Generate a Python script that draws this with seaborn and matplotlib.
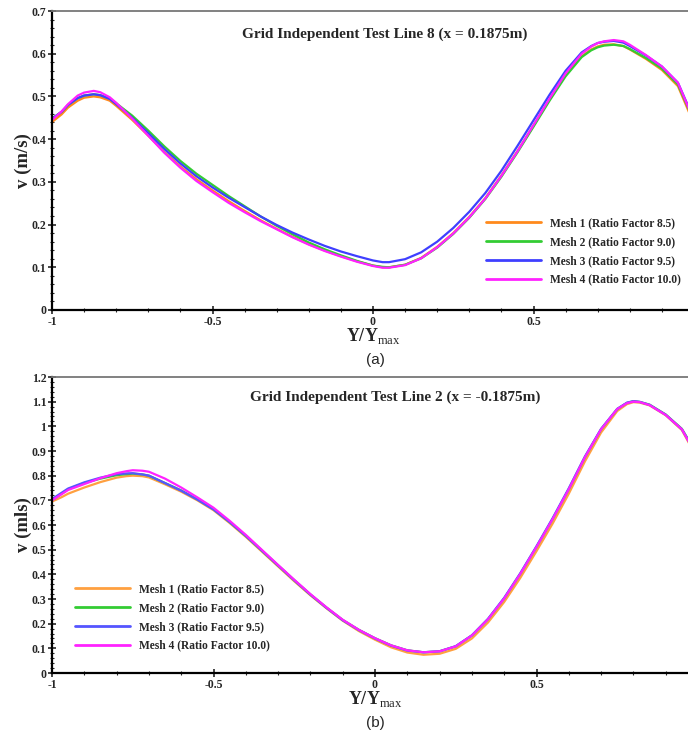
import numpy as np
import pandas as pd
import matplotlib
matplotlib.use("Agg")
import matplotlib.pyplot as plt
import seaborn as sns
from matplotlib.ticker import MultipleLocator, FixedLocator, FuncFormatter


# ============================================================
# DATA
# ============================================================

mesh_labels = [
    "Mesh 1 (Ratio Factor 8.5)",
    "Mesh 2 (Ratio Factor 9.0)",
    "Mesh 3 (Ratio Factor 9.5)",
    "Mesh 4 (Ratio Factor 10.0)",
]

# panel (a): line 8, x = 0.1875 m
y_pos_a = [-1.00, -0.97, -0.95, -0.92, -0.90, -0.87, -0.85, -0.82, -0.80, -0.75,
           -0.70, -0.65, -0.60, -0.55, -0.50, -0.45, -0.40, -0.35, -0.30, -0.25,
           -0.20, -0.15, -0.10, -0.05, 0.00, 0.03, 0.05, 0.10, 0.15, 0.20,
           0.25, 0.30, 0.35, 0.40, 0.45, 0.50, 0.55, 0.60, 0.65, 0.68,
           0.70, 0.72, 0.75, 0.78, 0.80, 0.85, 0.90, 0.95, 0.985]

v_a_mesh1 = [0.440, 0.458, 0.474, 0.490, 0.497, 0.500, 0.498, 0.490, 0.478, 0.445,
             0.408, 0.370, 0.336, 0.306, 0.280, 0.255, 0.232, 0.210, 0.190, 0.171,
             0.154, 0.139, 0.126, 0.114, 0.104, 0.100, 0.100, 0.106, 0.122, 0.148,
             0.180, 0.218, 0.262, 0.315, 0.372, 0.432, 0.493, 0.550, 0.594, 0.610,
             0.617, 0.621, 0.622, 0.618, 0.610, 0.588, 0.562, 0.524, 0.462]
v_a_mesh2 = [0.448, 0.464, 0.480, 0.496, 0.502, 0.505, 0.503, 0.495, 0.484, 0.455,
             0.420, 0.383, 0.349, 0.319, 0.293, 0.267, 0.243, 0.219, 0.197, 0.177,
             0.158, 0.142, 0.128, 0.115, 0.104, 0.101, 0.100, 0.106, 0.121, 0.146,
             0.178, 0.216, 0.260, 0.312, 0.369, 0.429, 0.490, 0.547, 0.592, 0.608,
             0.615, 0.619, 0.621, 0.618, 0.611, 0.590, 0.565, 0.528, 0.468]
v_a_mesh3 = [0.448, 0.464, 0.480, 0.496, 0.502, 0.505, 0.503, 0.494, 0.482, 0.450,
             0.414, 0.377, 0.343, 0.313, 0.287, 0.263, 0.241, 0.219, 0.199, 0.181,
             0.165, 0.150, 0.137, 0.126, 0.116, 0.112, 0.112, 0.119, 0.135, 0.160,
             0.192, 0.230, 0.274, 0.326, 0.384, 0.444, 0.504, 0.560, 0.603, 0.618,
             0.625, 0.628, 0.630, 0.626, 0.618, 0.596, 0.570, 0.532, 0.472]
v_a_mesh4 = [0.445, 0.465, 0.482, 0.502, 0.509, 0.513, 0.510, 0.498, 0.485, 0.448,
             0.408, 0.368, 0.333, 0.302, 0.276, 0.251, 0.229, 0.208, 0.189, 0.170,
             0.153, 0.138, 0.125, 0.113, 0.103, 0.099, 0.099, 0.105, 0.121, 0.147,
             0.179, 0.217, 0.261, 0.314, 0.371, 0.433, 0.495, 0.554, 0.600, 0.617,
             0.625, 0.629, 0.632, 0.629, 0.621, 0.597, 0.570, 0.532, 0.470]

# panel (b): line 2, x = -0.1875 m
y_pos_b = [-1.00, -0.97, -0.95, -0.90, -0.85, -0.80, -0.77, -0.75, -0.72, -0.70,
           -0.65, -0.60, -0.55, -0.50, -0.45, -0.40, -0.35, -0.30, -0.25, -0.20,
           -0.15, -0.10, -0.05, 0.00, 0.05, 0.10, 0.15, 0.20, 0.25, 0.30,
           0.35, 0.40, 0.45, 0.50, 0.55, 0.60, 0.65, 0.70, 0.75, 0.78,
           0.80, 0.82, 0.85, 0.90, 0.95, 0.975]

v_b_mesh1 = [0.695, 0.713, 0.727, 0.752, 0.774, 0.792, 0.798, 0.800, 0.798, 0.793,
             0.765, 0.735, 0.700, 0.660, 0.608, 0.552, 0.492, 0.432, 0.372, 0.315,
             0.262, 0.212, 0.170, 0.135, 0.104, 0.083, 0.074, 0.078, 0.098, 0.140,
             0.205, 0.288, 0.386, 0.494, 0.606, 0.727, 0.858, 0.975, 1.062, 1.090,
             1.098, 1.096, 1.085, 1.045, 0.985, 0.925]
v_b_mesh2 = [0.700, 0.727, 0.745, 0.770, 0.788, 0.802, 0.806, 0.808, 0.805, 0.800,
             0.770, 0.740, 0.704, 0.664, 0.612, 0.556, 0.496, 0.436, 0.376, 0.318,
             0.265, 0.215, 0.175, 0.141, 0.112, 0.092, 0.084, 0.088, 0.108, 0.152,
             0.218, 0.302, 0.402, 0.511, 0.624, 0.745, 0.875, 0.988, 1.070, 1.095,
             1.102, 1.099, 1.088, 1.048, 0.990, 0.935]
v_b_mesh3 = [0.705, 0.731, 0.748, 0.773, 0.792, 0.806, 0.809, 0.810, 0.805, 0.800,
             0.770, 0.739, 0.703, 0.663, 0.612, 0.556, 0.496, 0.436, 0.376, 0.318,
             0.264, 0.214, 0.174, 0.140, 0.111, 0.091, 0.084, 0.088, 0.109, 0.153,
             0.220, 0.305, 0.405, 0.514, 0.628, 0.749, 0.878, 0.990, 1.071, 1.096,
             1.102, 1.099, 1.087, 1.047, 0.988, 0.932]
v_b_mesh4 = [0.700, 0.725, 0.742, 0.766, 0.790, 0.810, 0.818, 0.822, 0.820, 0.816,
             0.788, 0.752, 0.712, 0.670, 0.617, 0.560, 0.499, 0.438, 0.378, 0.320,
             0.266, 0.216, 0.175, 0.141, 0.112, 0.092, 0.084, 0.088, 0.108, 0.152,
             0.218, 0.302, 0.402, 0.511, 0.624, 0.745, 0.875, 0.988, 1.070, 1.094,
             1.100, 1.098, 1.086, 1.046, 0.988, 0.930]

x_ticks = [-1, -0.5, 0, 0.5]

colors_a = ["#FF8A1C", "#33CC33", "#3F3FFF", "#FF22FF"]
colors_b = ["#FFA040", "#33CC33", "#5555FF", "#FF22FF"]


# ============================================================
# HELPERS
# ============================================================

def to_long(x, series):
    frames = []
    for label, values in zip(mesh_labels, series):
        frames.append(pd.DataFrame({"Y": x, "v": values, "mesh": label}))
    return pd.concat(frames, ignore_index=True)


def style_axes(ax, ymax, ylabel, title, title_x, title_y):
    ax.set_xlim(-1, 1)
    ax.set_ylim(0, ymax)
    ax.xaxis.set_major_locator(FixedLocator(x_ticks))
    ax.xaxis.set_minor_locator(MultipleLocator(0.1))
    ax.yaxis.set_major_locator(MultipleLocator(0.1))
    ax.yaxis.set_minor_locator(MultipleLocator(0.02))
    fmt = FuncFormatter(lambda v, pos: f"{v:g}")
    ax.xaxis.set_major_formatter(fmt)
    ax.yaxis.set_major_formatter(fmt)
    ax.tick_params(which="major", direction="inout", length=6, width=1.2,
                   labelsize=8.5, pad=1)
    ax.tick_params(which="minor", direction="inout", length=3, width=0.8)
    ax.tick_params(axis="x", which="both", top=False)
    ax.tick_params(axis="y", which="both", right=False)
    for lab in ax.get_xticklabels() + ax.get_yticklabels():
        lab.set_fontweight("bold")
    for side in ["left", "bottom"]:
        ax.spines[side].set_color("black")
        ax.spines[side].set_linewidth(1.6)
    ax.spines["top"].set_color("#777777")
    ax.spines["top"].set_linewidth(1.3)
    ax.spines["right"].set_visible(False)
    ax.set_ylabel(ylabel, fontsize=13.5, fontweight="bold", labelpad=0)
    ax.set_xlabel(r"$\mathbf{Y/Y}_{\mathrm{max}}$", fontsize=13, labelpad=-1)
    ax.text(title_x, title_y, title, transform=ax.transAxes, ha="center",
            va="center", fontsize=11, fontweight="bold")


# ============================================================
# PLOT
# ============================================================

sns.set_style("ticks")
plt.rcParams["font.family"] = ["Liberation Serif", "DejaVu Serif"]
plt.rcParams["mathtext.fontset"] = "custom"
plt.rcParams["mathtext.rm"] = "Liberation Serif"
plt.rcParams["mathtext.bf"] = "Liberation Serif:bold"

fig = plt.figure(figsize=(6.88, 7.33), dpi=100)
ax_a = fig.add_axes([52 / 688, 1 - 310 / 733, 642 / 688, 299 / 733])
ax_b = fig.add_axes([52 / 688, 1 - 673 / 733, 646 / 688, 296 / 733])

df_a = to_long(y_pos_a, [v_a_mesh1, v_a_mesh2, v_a_mesh3, v_a_mesh4])
df_b = to_long(y_pos_b, [v_b_mesh1, v_b_mesh2, v_b_mesh3, v_b_mesh4])

sns.lineplot(data=df_a, x="Y", y="v", hue="mesh", palette=colors_a,
             linewidth=1.6, ax=ax_a, sort=False)
sns.lineplot(data=df_b, x="Y", y="v", hue="mesh", palette=colors_b,
             linewidth=1.6, ax=ax_b, sort=False)

style_axes(ax_a, 0.7, "v (m/s)", "Grid Independent Test Line 8 (x = 0.1875m)",
           (385 - 52) / 642, 1 - (34 - 11) / 299)
style_axes(ax_b, 1.2, "v (mls)", "Grid Independent Test Line 2 (x = -0.1875m)",
           (395 - 52) / 646, 1 - (397 - 377) / 296)

leg_kw = dict(loc="upper left", frameon=False, prop={"weight": "bold", "size": 8.3},
              handlelength=4.8, handletextpad=0.75, labelspacing=0.6,
              borderaxespad=0, borderpad=0)
leg_a = ax_a.legend(bbox_to_anchor=((486 - 52) / 642, 1 - (217 - 11) / 299), **leg_kw)
leg_b = ax_b.legend(bbox_to_anchor=((75 - 52) / 646, 1 - (583 - 377) / 296), **leg_kw)
for leg in [leg_a, leg_b]:
    for line in leg.get_lines():
        line.set_linewidth(2)

fig.text(375 / 688, 1 - 360 / 733, "(a)", ha="center", va="center",
         fontsize=11, family=["Liberation Sans", "DejaVu Sans"])
fig.text(375 / 688, 1 - 723 / 733, "(b)", ha="center", va="center",
         fontsize=11, family=["Liberation Sans", "DejaVu Sans"])

fig.savefig("out.png", dpi=100)
